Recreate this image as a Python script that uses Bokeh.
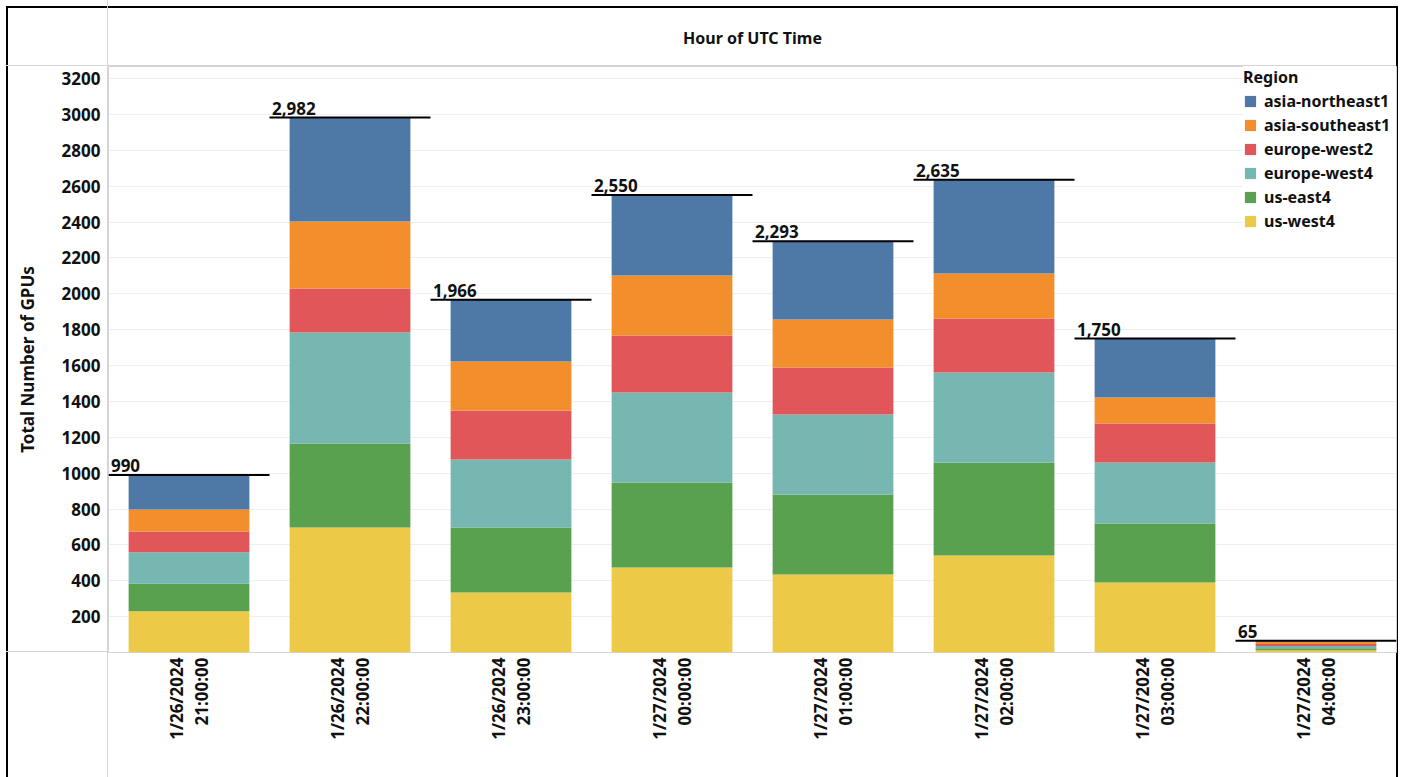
import numpy as np
from bokeh.plotting import figure
from bokeh.models import (ColumnDataSource, FactorRange, Range1d, FixedTicker, Legend, LegendItem)
from bokeh.transform import dodge
from bokeh.embed import file_html
from bokeh.resources import INLINE
from bokeh.core.properties import value

# ---------------- data ----------------
hours = ["1/26/2024\n21:00:00", "1/26/2024\n22:00:00", "1/26/2024\n23:00:00",
         "1/27/2024\n00:00:00", "1/27/2024\n01:00:00", "1/27/2024\n02:00:00",
         "1/27/2024\n03:00:00", "1/27/2024\n04:00:00"]
regions = ["us-west4", "us-east4", "europe-west4", "europe-west2",
           "asia-southeast1", "asia-northeast1"]
us_west4        = [230, 697, 334, 474, 435, 541, 390, 12]
us_east4        = [153, 468, 363, 474, 446, 518, 329, 12]
europe_west4    = [176, 619, 379, 501, 446, 502, 340, 12]
europe_west2    = [116, 245, 273, 318, 262, 301, 218, 12]
asia_southeast1 = [122, 374, 273, 335, 267, 251, 145, 12]
asia_northeast1 = [193, 579, 344, 448, 437, 522, 328, 5]
y_ticks = [200, 400, 600, 800, 1000, 1200, 1400, 1600, 1800, 2000,
           2200, 2400, 2600, 2800, 3000, 3200]

colors = ["#edc948", "#59a14f", "#76b7b2", "#e15759", "#f28e2b", "#4e79a7"]
series = [us_west4, us_east4, europe_west4, europe_west2, asia_southeast1, asia_northeast1]

data = {"hour": hours}
for r, s in zip(regions, series):
    data[r] = s
totals = [int(sum(v)) for v in zip(*series)]
data["total"] = totals
data["total_label"] = ["{:,}".format(t) for t in totals]
src = ColumnDataSource(data)

FONT = "Noto Sans"
GRAY = "#d4d4d4"

css_bg = {
    "background-color": "white",
    "background-image": ", ".join(["linear-gradient(%s,%s)" % (c, c) for c in
                                   [GRAY, GRAY, GRAY, "#000", "#000", "#000"]]),
    "background-position": "107px 0px, 6px 65px, 6px 651px, 6px 6px, 6px 6px, 1396px 6px",
    "background-size": "1px 100%, 1390px 1px, 1390px 1px, 2px 100%, 1392px 2px, 2px 100%",
    "background-repeat": "no-repeat",
}

p = figure(x_range=FactorRange(*hours), y_range=Range1d(0, 3267),
           width=1405, height=777, output_backend="svg", toolbar_location=None,
           min_border_left=108, min_border_right=9, min_border_top=66, min_border_bottom=125,
           background_fill_color="white", border_fill_color=None, styles=css_bg)

renderers = p.vbar_stack(regions, x="hour", width=0.75, color=colors, source=src,
                         line_color=None)

# totals reference lines + labels
p.segment(x0=dodge("hour", -0.5, range=p.x_range), x1=dodge("hour", 0.5, range=p.x_range),
          y0="total", y1="total", source=src, line_color="black", line_width=2)
p.text(x=dodge("hour", -0.485, range=p.x_range), y="total", text="total_label", source=src,
       text_font=value(FONT), text_font_style="bold", text_font_size="17px",
       text_baseline="bottom", text_align="left", y_offset=-3, text_color="#111111")

# axes
p.yaxis.ticker = FixedTicker(ticks=y_ticks)
p.yaxis.axis_label = "Total Number of GPUs"
p.yaxis.axis_label_text_font = FONT
p.yaxis.axis_label_text_font_style = "bold"
p.yaxis.axis_label_text_font_size = "17px"
p.yaxis.axis_label_text_color = "#111111"
p.yaxis.axis_label_standoff = 20
p.yaxis.major_label_text_font = FONT
p.yaxis.major_label_text_font_style = "bold"
p.yaxis.major_label_text_font_size = "17px"
p.yaxis.major_label_text_color = "#111111"
p.yaxis.major_label_standoff = 8
p.yaxis.major_tick_line_color = None
p.yaxis.major_tick_out = 0
p.yaxis.major_tick_in = 0
p.yaxis.minor_tick_line_color = None
p.yaxis.axis_line_color = None

p.xaxis.major_label_orientation = np.pi / 2
p.xaxis.major_label_text_font = FONT
p.xaxis.major_label_text_font_style = "bold"
p.xaxis.major_label_text_font_size = "17px"
p.xaxis.major_label_text_line_height = 1.07
p.xaxis.major_label_text_color = "#111111"
p.xaxis.major_label_standoff = 5
p.xaxis.major_tick_line_color = None
p.xaxis.major_tick_out = 0
p.xaxis.major_tick_in = 0
p.xaxis.axis_line_color = None

p.xgrid.grid_line_color = None
p.ygrid.grid_line_color = "#efefef"
p.ygrid.grid_line_width = 1

p.outline_line_color = GRAY
p.outline_line_width = 1

# title (header)
p.title.text = "Hour of UTC Time"
p.title.align = "center"
p.title.text_font = FONT
p.title.text_font_style = "bold"
p.title.text_font_size = "16px"
p.title.text_color = "#111111"
p.title.standoff = 36

# legend
items = [LegendItem(label=r, renderers=[rend]) for r, rend in zip(regions, renderers)][::-1]
legend = Legend(items=items, location="top_right", title="Region",
                title_text_font=FONT, title_text_font_style="bold", title_text_font_size="16px",
                title_text_color="#111111", title_standoff=2,
                label_text_font=FONT, label_text_font_style="bold", label_text_font_size="16px",
                label_text_color="#111111", glyph_width=14, glyph_height=14, label_height=18,
                label_width=132, label_standoff=7, spacing=2, padding=7, margin=0,
                border_line_color=None, background_fill_color="white", background_fill_alpha=1)
p.add_layout(legend, "center")

open("out.html", "w").write(file_html(p, INLINE))
